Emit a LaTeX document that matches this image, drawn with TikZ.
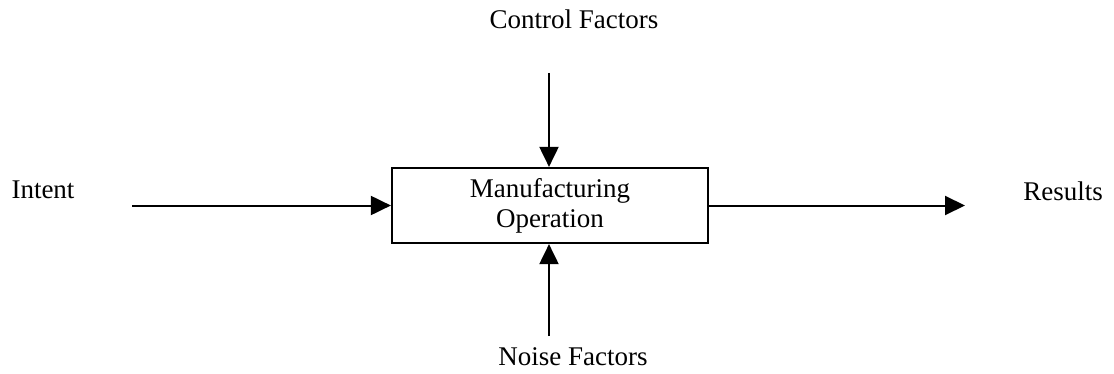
\documentclass[tikz,border=0pt]{standalone}
\usepackage{fontspec}
\setmainfont{Liberation Serif}
\usetikzlibrary{arrows.meta}
\begin{document}
\begin{tikzpicture}[x=0.5pt, y=-0.5pt,
  label/.style={font=\fontsize{13.5pt}{15pt}\selectfont, inner sep=0pt},
  opbox/.style={draw, line width=1.1pt, minimum width=158pt, minimum height=37.5pt,
    inner sep=0pt, align=center, font=\fontsize{13.5pt}{15pt}\selectfont},
  flow/.style={line width=1pt, -{Triangle[length=10pt, width=9.5pt]}}]
  \useasboundingbox (0,0) rectangle (1114,374);

  % central process box
  \node[opbox] (mo) at (550,205.5) {Manufacturing\\Operation};

  % outer labels
  \node[label] (ctl) at (574,19) {Control Factors};
  \node[label] (noise) at (573,357) {Noise Factors};
  \node[label] (intent) at (43,190) {Intent};
  \node[label] (res) at (1063,191) {Results};

  % free ends of the connectors
  \coordinate (ctop) at (549,73);
  \coordinate (cbot) at (549,336);
  \coordinate (cin) at (132,205.5);
  \coordinate (cout) at (965,205.5);

  % inputs, controls, noise and output
  \draw[flow] (ctop) -- (ctop |- mo.north);
  \draw[flow] (cbot) -- (cbot |- mo.south);
  \draw[flow] (cin) -- (mo.west);
  \draw[flow] (mo.east) -- (cout);
\end{tikzpicture}
\end{document}
